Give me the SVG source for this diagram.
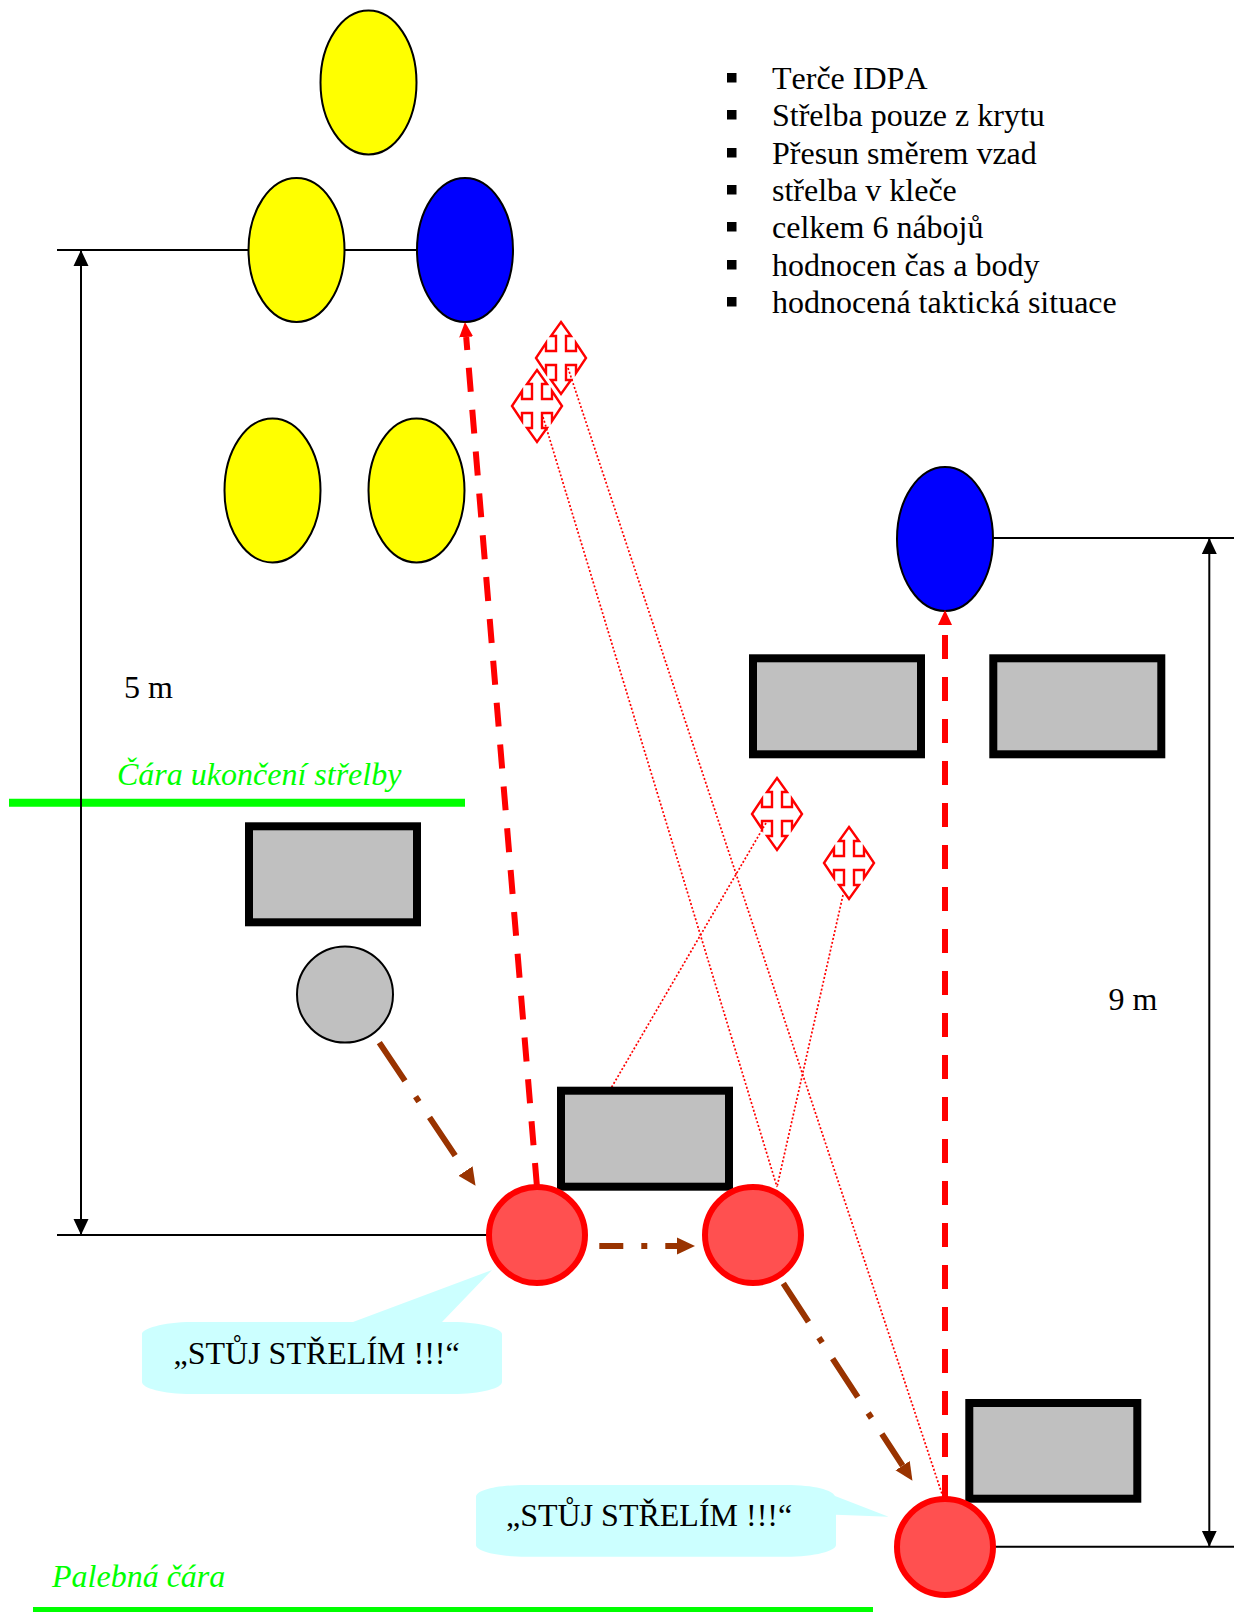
<svg xmlns="http://www.w3.org/2000/svg" width="1237" height="1612" viewBox="0 0 1237 1612">
<style>
text{font-family:"Liberation Serif","Times New Roman",serif;font-size:32px;fill:#000;font-kerning:none}
.g{fill:#00ff00;font-style:italic}
.y{fill:#ffff00;stroke:#000;stroke-width:2}
.b{fill:#0000ff;stroke:#000;stroke-width:2}
.r{fill:#c0c0c0;stroke:#000;stroke-width:8}
.s{fill:#ff5050;stroke:#ff0000;stroke-width:6}
.d{fill:none;stroke:#000;stroke-width:2}
.red{fill:none;stroke:#ff0000;stroke-width:6;stroke-dasharray:24 18}
.br{fill:none;stroke:#993300;stroke-width:6;stroke-dasharray:46 19 6 19}
.dot{fill:none;stroke:#ff0000;stroke-width:1.7;stroke-dasharray:2 2}
.gl{fill:none;stroke:#00ff00;stroke-width:8}
.c{fill:#ccffff}
.x{fill:#fff;stroke:#ff0000;stroke-width:2.4}
</style>
<defs>
<marker id="mr" markerUnits="userSpaceOnUse" markerWidth="16" markerHeight="16" refX="0" refY="8" orient="auto"><path d="M0 1L15 8L0 15Z" fill="#ff0000"/></marker>
<marker id="mb" markerUnits="userSpaceOnUse" markerWidth="20" markerHeight="20" refX="0" refY="10" orient="auto"><path d="M0 1.500L18 10L0 18.500Z" fill="#993300"/></marker>
<marker id="mk" markerUnits="userSpaceOnUse" markerWidth="17" markerHeight="16" refX="16" refY="8" orient="auto-start-reverse"><path d="M0 0.500L16 8L0 15.500Z" fill="#000"/></marker>
<path id="cross" d="M0-36L10-22H5V-7H15V-15L25 0L15 15V7H5V22H10L0 36L-10 22H-5V7H-15V15L-25 0L-15-15V-7H-5V-22H-10Z"/>
</defs>

<g id="connectors">
<path class="gl" d="M9 802.700H465M33 1611H873"/>
<path class="d" d="M57 250H249M345 250H417M57 1235H488M993 538H1234M990 1546.700H1234"/>
<path class="d" d="M81 250V1235" marker-start="url(#mk)" marker-end="url(#mk)"/>
<path class="d" d="M1209.300 538V1546.700" marker-start="url(#mk)" marker-end="url(#mk)"/>
<path class="dot" d="M568 368L944 1500"/>
<path class="dot" d="M543 417L777 1187"/>
<path class="dot" d="M766 823L610 1090"/>
<path class="dot" d="M843 895L777 1187"/>
</g>

<g id="target-top"><ellipse class="y" cx="368.500" cy="82.500" rx="48" ry="72"/></g>
<g id="target-mid"><ellipse class="y" cx="296.500" cy="250" rx="48" ry="72"/></g>
<g id="target-blue-1"><ellipse class="b" cx="465" cy="250" rx="48" ry="72"/></g>
<g id="target-low-1"><ellipse class="y" cx="272.500" cy="490.500" rx="48" ry="72"/></g>
<g id="target-low-2"><ellipse class="y" cx="416.500" cy="490.500" rx="48" ry="72"/></g>
<g id="target-blue-2"><ellipse class="b" cx="945" cy="539" rx="48" ry="72"/></g>

<g id="cover-1"><rect class="r" x="753" y="658.300" width="168" height="96"/></g>
<g id="cover-2"><rect class="r" x="993.300" y="658.300" width="168" height="96"/></g>
<g id="cover-3"><rect class="r" x="249" y="826.300" width="168" height="96"/></g>
<g id="cover-4"><rect class="r" x="561" y="1090.700" width="168" height="96"/></g>
<g id="cover-5"><rect class="r" x="969.300" y="1403" width="168" height="95.700"/></g>

<g id="cross-1"><use href="#cross" class="x" x="561" y="358"/></g>
<g id="cross-2"><use href="#cross" class="x" x="537" y="406"/></g>
<g id="cross-3"><use href="#cross" class="x" x="777" y="814"/></g>
<g id="cross-4"><use href="#cross" class="x" x="849" y="863"/></g>

<g id="start"><circle cx="345" cy="994.500" r="48" fill="#c0c0c0" stroke="#000" stroke-width="2"/></g>
<g id="pos-1"><circle class="s" cx="537" cy="1235" r="48"/></g>
<g id="pos-2"><circle class="s" cx="753" cy="1235" r="48"/></g>
<g id="pos-3"><circle class="s" cx="945" cy="1547" r="48"/></g>

<g id="moves">
<path class="red" d="M537 1187L466.200 337" marker-end="url(#mr)"/>
<path class="red" d="M945 1499V625" marker-end="url(#mr)"/>
<path class="br" d="M379.300 1042.700L465.500 1170.900" marker-end="url(#mb)"/>
<path class="br" style="stroke-dasharray:24 18 6 18" d="M599.300 1246H677" marker-end="url(#mb)"/>
<path class="br" d="M783.300 1283.300L902.600 1465.600" marker-end="url(#mb)"/>
</g>

<g id="bubble-1">
<path class="c" d="M353 1322L492 1270L442 1322H452C482 1322 502 1329 502 1334V1382C502 1388 482 1394 452 1394H192C162 1394 142 1388 142 1382V1334C142 1329 162 1322 192 1322Z"/>
<text x="173.500" y="1364">„STŮJ STŘELÍM !!!“</text>
</g>
<g id="bubble-2">
<path class="c" d="M526 1485H786C815 1485 832 1490 835 1496L888.600 1516.700L836 1514.700V1545C836 1551 815 1556.700 786 1556.700H526C497 1556.700 476 1551 476 1545V1497C476 1490 497 1485 526 1485Z"/>
<text x="506" y="1525.500">„STŮJ STŘELÍM !!!“</text>
</g>

<g id="labels">
<text x="124" y="698">5 m</text>
<text x="1108.500" y="1010">9 m</text>
<text class="g" x="117" y="785">Čára ukončení střelby</text>
<text class="g" x="52" y="1587">Palebná čára</text>
</g>

<g id="notes">
<rect x="727" y="73" width="9.500" height="9.500"/>
<rect x="727" y="110" width="9.500" height="9.500"/>
<rect x="727" y="148" width="9.500" height="9.500"/>
<rect x="727" y="185" width="9.500" height="9.500"/>
<rect x="727" y="222" width="9.500" height="9.500"/>
<rect x="727" y="260" width="9.500" height="9.500"/>
<rect x="727" y="297" width="9.500" height="9.500"/>
<text x="772" y="89">Terče IDPA</text>
<text x="772" y="126">Střelba pouze z krytu</text>
<text x="772" y="164">Přesun směrem vzad</text>
<text x="772" y="201">střelba v kleče</text>
<text x="772" y="238">celkem 6 nábojů</text>
<text x="772" y="276">hodnocen čas a body</text>
<text x="772" y="313">hodnocená taktická situace</text>
</g>
</svg>
